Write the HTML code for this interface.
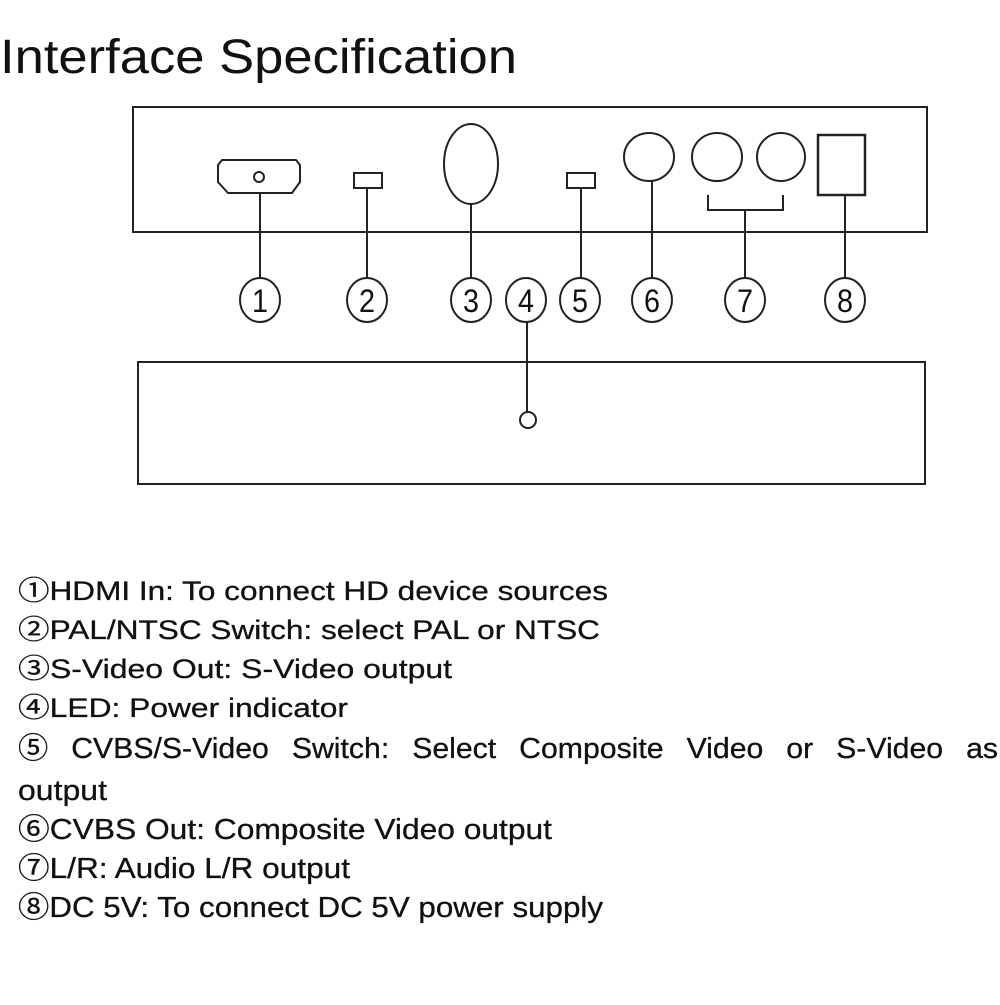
<!DOCTYPE html>
<html><head><meta charset="utf-8"><style>html,body{margin:0;padding:0;background:#fff}</style></head>
<body>
<svg width="1000" height="1000" viewBox="0 0 1000 1000" xmlns="http://www.w3.org/2000/svg" font-family="Liberation Sans, Noto Sans CJK SC, sans-serif">
<rect width="1000" height="1000" fill="#fff"/>
<text x="0" y="73" font-size="48" fill="#111" textLength="517" lengthAdjust="spacingAndGlyphs">Interface Specification</text>
<g fill="none" stroke="#222" stroke-width="2">
<rect x="133" y="107" width="794" height="125"/>
<path d="M222 160 H296 L300 165 V182 L292 193 H228 L218 182 V165 Z"/>
<circle cx="259" cy="177" r="5"/>
<rect x="354" y="173" width="28" height="15"/>
<ellipse cx="471" cy="164" rx="27" ry="40"/>
<rect x="567" y="173" width="28" height="15"/>
<ellipse cx="649" cy="157" rx="25" ry="24"/>
<ellipse cx="717" cy="157" rx="25" ry="24"/>
<ellipse cx="781" cy="157" rx="24" ry="24"/>
<rect x="818" y="135" width="47" height="60" stroke-width="2.5"/>
<path d="M708 195 V210 H783 V195 M745 210 V278"/>
<path d="M260 194 V278 M367 188 V278 M471 204 V278 M581 188 V278 M652 181 V278 M845 195 V278"/>
<ellipse cx="260" cy="300" rx="20" ry="22"/>
<ellipse cx="367" cy="300" rx="20" ry="22"/>
<ellipse cx="471" cy="300" rx="20" ry="22"/>
<ellipse cx="526" cy="300" rx="20" ry="22"/>
<ellipse cx="580" cy="300" rx="20" ry="22"/>
<ellipse cx="652" cy="300" rx="20" ry="22"/>
<ellipse cx="745" cy="300" rx="20" ry="22"/>
<ellipse cx="845" cy="300" rx="20" ry="22"/>
<path d="M527 322 V412"/>
<rect x="138" y="362" width="787" height="122"/>
<circle cx="528" cy="420" r="8"/>
</g>
<g font-size="32" fill="#111" text-anchor="middle">
<text x="260" y="312" textLength="16" lengthAdjust="spacingAndGlyphs">1</text>
<text x="367" y="312" textLength="16" lengthAdjust="spacingAndGlyphs">2</text>
<text x="471" y="312" textLength="16" lengthAdjust="spacingAndGlyphs">3</text>
<text x="526" y="312" textLength="16" lengthAdjust="spacingAndGlyphs">4</text>
<text x="580" y="312" textLength="16" lengthAdjust="spacingAndGlyphs">5</text>
<text x="652" y="312" textLength="16" lengthAdjust="spacingAndGlyphs">6</text>
<text x="745" y="312" textLength="16" lengthAdjust="spacingAndGlyphs">7</text>
<text x="845" y="312" textLength="16" lengthAdjust="spacingAndGlyphs">8</text>
</g>
<g font-size="27" fill="#111" stroke="#111" stroke-width="0.3">
<text x="18" y="600" textLength="590" lengthAdjust="spacingAndGlyphs">①HDMI In: To connect HD device sources</text>
<text x="18" y="639" textLength="582" lengthAdjust="spacingAndGlyphs">②PAL/NTSC Switch: select PAL or NTSC</text>
<text x="18" y="678" textLength="434" lengthAdjust="spacingAndGlyphs">③S-Video Out: S-Video output</text>
<text x="18" y="717" textLength="330" lengthAdjust="spacingAndGlyphs">④LED: Power indicator</text>
<text x="18" y="758" font-size="29" word-spacing="14" textLength="980" lengthAdjust="spacingAndGlyphs">⑤ CVBS/S-Video Switch: Select Composite Video or S-Video as</text>
<text x="18" y="800" font-size="29" textLength="89" lengthAdjust="spacingAndGlyphs">output</text>
<text x="18" y="839" font-size="29" textLength="534" lengthAdjust="spacingAndGlyphs">⑥CVBS Out: Composite Video output</text>
<text x="18" y="878" font-size="29" textLength="332" lengthAdjust="spacingAndGlyphs">⑦L/R: Audio L/R output</text>
<text x="18" y="917" font-size="29" textLength="585" lengthAdjust="spacingAndGlyphs">⑧DC 5V: To connect DC 5V power supply</text>
</g>
</svg>
</body></html>
